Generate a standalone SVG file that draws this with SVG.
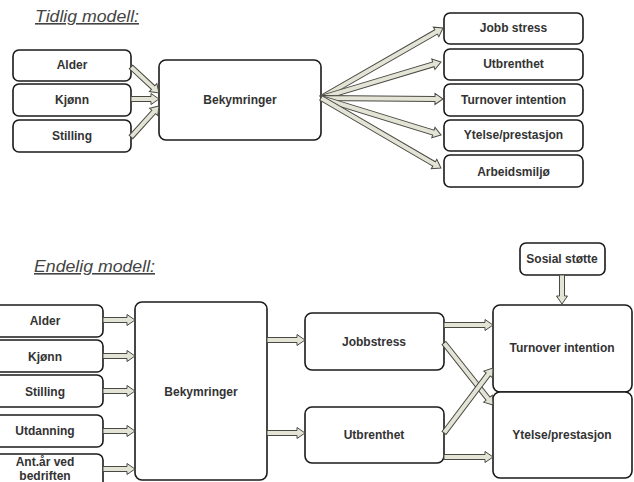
<svg xmlns="http://www.w3.org/2000/svg" width="634" height="482" viewBox="0 0 634 482">
<style>
.box{fill:#fff;stroke:#1a1a1a;stroke-width:1.6}
.lbl{font-family:"Liberation Sans",Arial,sans-serif;font-weight:bold;font-size:12px;fill:#333;text-anchor:middle}
.title{font-family:"Liberation Sans",Arial,sans-serif;font-style:italic;font-size:16px;fill:#444;text-decoration:underline}
.arr{fill:#e4e4d6;stroke:#4a4a44;stroke-width:1;stroke-linejoin:miter}
</style>
<rect width="634" height="482" fill="#fff"/>
<text class="title" x="35" y="22" textLength="104" lengthAdjust="spacingAndGlyphs">Tidlig modell:</text>
<text class="title" x="34" y="272" textLength="121" lengthAdjust="spacingAndGlyphs">Endelig modell:</text>

<g id="t-alder"><rect class="box" x="13" y="50" width="118" height="31" rx="6"/><text class="lbl" x="72" y="69">Alder</text></g>
<g id="t-kjonn"><rect class="box" x="13" y="84" width="118" height="32" rx="6"/><text class="lbl" x="72" y="104">Kjønn</text></g>
<g id="t-stilling"><rect class="box" x="13" y="120" width="118" height="32" rx="6"/><text class="lbl" x="72" y="140">Stilling</text></g>
<g id="t-bek"><rect class="box" x="159" y="60" width="162" height="80" rx="7"/><text class="lbl" x="240" y="104">Bekymringer</text></g>
<g id="t-jobb"><rect class="box" x="444" y="13" width="139" height="31" rx="6"/><text class="lbl" x="513.5" y="32">Jobb stress</text></g>
<g id="t-utb"><rect class="box" x="444" y="49" width="139" height="31" rx="6"/><text class="lbl" x="513.5" y="68">Utbrenthet</text></g>
<g id="t-turn"><rect class="box" x="444" y="84" width="139" height="32" rx="6"/><text class="lbl" x="513.5" y="104">Turnover intention</text></g>
<g id="t-ytelse"><rect class="box" x="444" y="120" width="139" height="31" rx="6"/><text class="lbl" x="513.5" y="139">Ytelse/prestasjon</text></g>
<g id="t-arb"><rect class="box" x="444" y="155" width="139" height="32" rx="6"/><text class="lbl" x="513.5" y="176">Arbeidsmiljø</text></g>

<g id="b-alder"><rect class="box" x="-12" y="305" width="115" height="32" rx="6"/><text class="lbl" x="45" y="325">Alder</text></g>
<g id="b-kjonn"><rect class="box" x="-12" y="340" width="115" height="32" rx="6"/><text class="lbl" x="45" y="361">Kjønn</text></g>
<g id="b-stilling"><rect class="box" x="-12" y="375" width="115" height="32" rx="6"/><text class="lbl" x="45" y="396">Stilling</text></g>
<g id="b-utd"><rect class="box" x="-12" y="415" width="115" height="32" rx="6"/><text class="lbl" x="45" y="435">Utdanning</text></g>
<g id="b-ant"><rect class="box" x="-12" y="454" width="115" height="40" rx="6"/><text class="lbl" x="45" y="466">Ant.år ved</text><text class="lbl" x="45" y="480">bedriften</text></g>
<g id="b-bek"><rect class="box" x="135" y="302" width="132" height="178" rx="7"/><text class="lbl" x="201" y="396">Bekymringer</text></g>
<g id="b-jobb"><rect class="box" x="305" y="313" width="139" height="57" rx="7"/><text class="lbl" x="374" y="346">Jobbstress</text></g>
<g id="b-utb"><rect class="box" x="305" y="407" width="139" height="56" rx="7"/><text class="lbl" x="374" y="439">Utbrenthet</text></g>
<g id="b-sosial"><rect class="box" x="520" y="243" width="85" height="32" rx="6"/><text class="lbl" x="562" y="263">Sosial støtte</text></g>
<g id="b-turn"><rect class="box" x="493" y="305" width="139" height="87" rx="7"/><text class="lbl" x="562" y="352">Turnover intention</text></g>
<g id="b-ytelse"><rect class="box" x="493" y="392" width="139" height="86" rx="7"/><text class="lbl" x="562" y="439">Ytelse/prestasjon</text></g>

<g id="connectors">
<path class="arr" transform="translate(131,67) rotate(42.9)" d="M0,-2.5H30.2V-5.5L38.2,0L30.2,5.5V2.5H0Z"/>
<path class="arr" transform="translate(131,99) rotate(0)" d="M0,-2.5H20V-5.5L28,0L20,5.5V2.5H0Z"/>
<path class="arr" transform="translate(131,137) rotate(-47.9)" d="M0,-2.5H33.8V-5.5L41.8,0L33.8,5.5V2.5H0Z"/>
<path class="arr" transform="translate(321,98) rotate(-29.85)" d="M0,-2.5H132.7V-5.5L140.7,0L132.7,5.5V2.5H0Z"/>
<path class="arr" transform="translate(321,98) rotate(-16.7)" d="M0,-2.5H117.3V-5.5L125.3,0L117.3,5.5V2.5H0Z"/>
<path class="arr" transform="translate(321,98) rotate(0.47)" d="M0,-2.5H114V-5.5L122,0L114,5.5V2.5H0Z"/>
<path class="arr" transform="translate(321,98) rotate(17.1)" d="M0,-2.5H117.6V-5.5L125.6,0L117.6,5.5V2.5H0Z"/>
<path class="arr" transform="translate(321,98) rotate(30.26)" d="M0,-2.5H130.9V-5.5L138.9,0L130.9,5.5V2.5H0Z"/>

<path class="arr" transform="translate(103,320)" d="M0,-2.5H24V-5.5L32,0L24,5.5V2.5H0Z"/>
<path class="arr" transform="translate(103,356)" d="M0,-2.5H24V-5.5L32,0L24,5.5V2.5H0Z"/>
<path class="arr" transform="translate(103,391)" d="M0,-2.5H24V-5.5L32,0L24,5.5V2.5H0Z"/>
<path class="arr" transform="translate(103,431)" d="M0,-2.5H24V-5.5L32,0L24,5.5V2.5H0Z"/>
<path class="arr" transform="translate(103,469)" d="M0,-2.5H24V-5.5L32,0L24,5.5V2.5H0Z"/>
<path class="arr" transform="translate(267,340)" d="M0,-2.5H30V-5.5L38,0L30,5.5V2.5H0Z"/>
<path class="arr" transform="translate(267,433)" d="M0,-2.5H30V-5.5L38,0L30,5.5V2.5H0Z"/>
<path class="arr" transform="translate(444,325)" d="M0,-2.5H41V-5.5L49,0L41,5.5V2.5H0Z"/>
<path class="arr" transform="translate(444,457)" d="M0,-2.5H41V-5.5L49,0L41,5.5V2.5H0Z"/>
<path class="arr" transform="translate(444,343) rotate(51.7)" d="M0,-2.5H71V-5.5L79,0L71,5.5V2.5H0Z"/>
<path class="arr" transform="translate(444,433) rotate(-53)" d="M0,-2.5H73.4V-5.5L81.4,0L73.4,5.5V2.5H0Z"/>
<path class="arr" transform="translate(562,275) rotate(90)" d="M0,-2.5H21V-5.5L29,0L21,5.5V2.5H0Z"/>
</g>
</svg>
